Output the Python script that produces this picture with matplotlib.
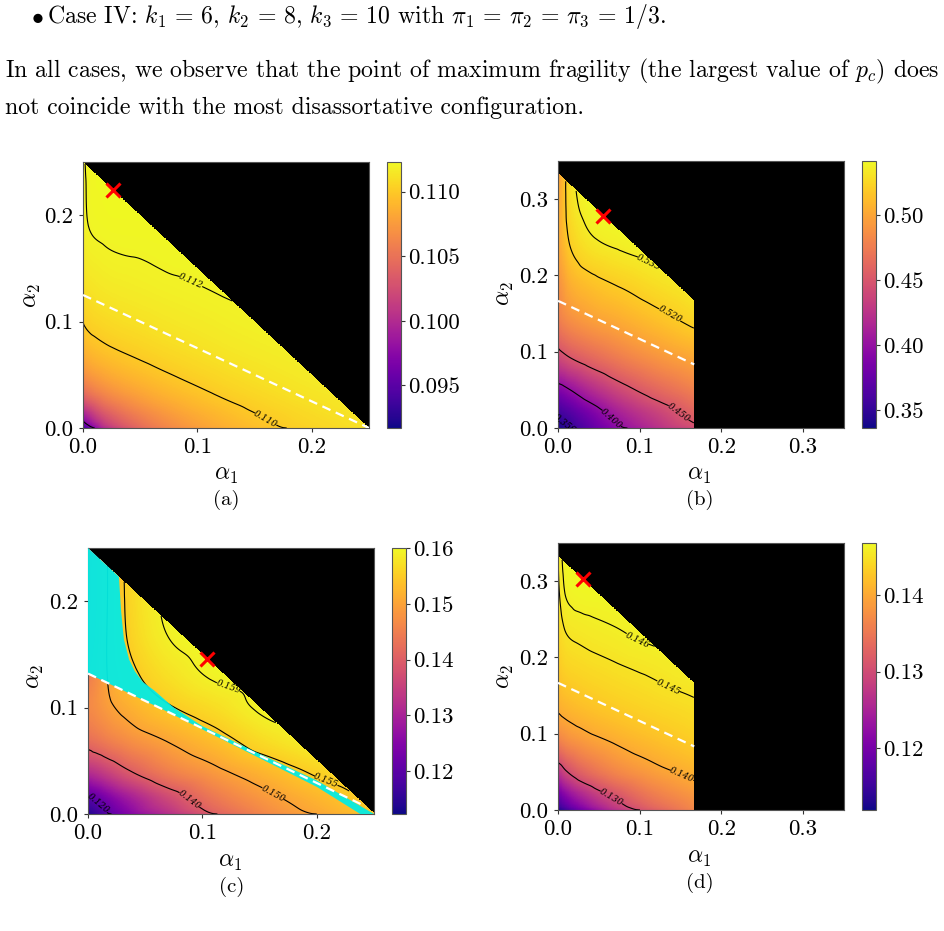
import numpy as np
import matplotlib
matplotlib.use("Agg")
import matplotlib.pyplot as plt
import matplotlib.tri as mtri

plt.rcParams.update({
    "font.family": "serif",
    "font.serif": ["cmr10"],
    "mathtext.fontset": "cm",
    "axes.formatter.use_mathtext": True,
})

W, H = 944, 931

# ---- panel (a): critical p_c on a grid of (alpha1, alpha2) nodes
A_ALPHA1 = [0, 0.004, 0.02, 0.06, 0.12, 0.185, 0.25]
A_ALPHA2 = [0, 0.012, 0.035, 0.07, 0.12, 0.185, 0.25]
A_PC = [
    [0.09188, 0.09439, 0.09998, 0.10505, 0.10828, 0.11015, 0.11117],
    [0.09849, 0.09994, 0.10315, 0.10658, 0.10911, 0.11060, 0.11142],
    [0.10461, 0.10533, 0.10676, 0.10865, 0.11025, 0.11123, 0.11176],
    [0.10841, 0.10887, 0.10956, 0.11045, 0.11128, 0.11179, 0.11207],
    [0.11056, 0.11092, 0.11128, 0.11163, 0.11196, 0.11216, 0.11227],
    [0.11150, 0.11194, 0.11212, 0.11219, 0.11227, 0.11233, 0.11236],
    [0.11178, 0.11210, 0.11230, 0.11233, 0.11236, 0.11238, 0.11239],
]
A_LEVELS = [0.097, 0.110, 0.112]
A_RANGE = (0.0917, 0.1123)
A_CBAR_TICKS = [0.095, 0.100, 0.105, 0.110]
A_DASH_ALPHA1 = [0.0, 0.25]
A_DASH_ALPHA2 = [0.125, 0.0]
A_PEAK = (0.026, 0.2235)

# ---- panel (b)
B_ALPHA1 = [0, 0.005, 0.015, 0.04, 0.08, 0.125, 0.1667]
B_ALPHA2 = [0, 0.02, 0.05, 0.09, 0.14, 0.19, 0.24, 0.29, 0.3333]
B_PC = [
    [0.336, 0.340, 0.347, 0.368, 0.397, 0.422, 0.440],
    [0.354, 0.359, 0.366, 0.386, 0.415, 0.438, 0.459],
    [0.388, 0.392, 0.400, 0.419, 0.443, 0.463, 0.478],
    [0.435, 0.441, 0.448, 0.460, 0.476, 0.490, 0.500],
    [0.473, 0.479, 0.486, 0.495, 0.504, 0.5145, 0.5235],
    [0.485, 0.494, 0.5056, 0.515, 0.5225, 0.530, 0.5355],
    [0.494, 0.507, 0.5206, 0.532, 0.537, 0.5405, 0.5425],
    [0.493, 0.5098, 0.528, 0.5398, 0.543, 0.544, 0.545],
    [0.4875, 0.508, 0.5297, 0.543, 0.545, 0.5455, 0.546],
]
B_LEVELS = [0.350, 0.400, 0.450, 0.520, 0.535]
B_RANGE = (0.336, 0.5415)
B_CBAR_TICKS = [0.35, 0.40, 0.45, 0.50]
B_DASH_ALPHA1 = [0.0, 0.1667]
B_DASH_ALPHA2 = [0.1667, 0.0833]
B_PEAK = (0.0555, 0.278)

# ---- panel (c)
C_ALPHA1 = [0, 0.008, 0.018, 0.035, 0.07, 0.11, 0.16, 0.205, 0.25]
C_ALPHA2 = [0, 0.015, 0.04, 0.07, 0.1, 0.13, 0.17, 0.21, 0.25]
C_PC = [
    [0.1123, 0.1155, 0.1192, 0.1240, 0.1315, 0.1395, 0.1465, 0.1504, 0.1539],
    [0.1188, 0.1215, 0.1245, 0.1290, 0.1368, 0.1439, 0.1492, 0.1527, 0.1557],
    [0.1318, 0.1336, 0.1358, 0.1395, 0.1450, 0.1489, 0.1529, 0.1559, 0.1580],
    [0.1423, 0.1437, 0.1452, 0.1473, 0.1504, 0.1535, 0.1573, 0.1594, 0.1602],
    [0.1459, 0.1475, 0.1492, 0.1514, 0.1546, 0.1569, 0.1598, 0.1603, 0.1605],
    [0.1434, 0.1471, 0.1503, 0.1537, 0.1572, 0.1593, 0.1602, 0.1605, 0.1606],
    [0.1400, 0.1456, 0.1506, 0.1553, 0.1591, 0.1602, 0.1606, 0.1607, 0.1607],
    [0.1385, 0.1449, 0.1504, 0.1557, 0.1596, 0.1604, 0.1607, 0.1607, 0.1607],
    [0.1384, 0.1449, 0.1505, 0.1559, 0.1596, 0.1606, 0.1607, 0.1607, 0.1607],
]
C_LEVELS = [0.120, 0.140, 0.150, 0.155, 0.159]
C_RANGE = (0.1123, 0.160)
C_CBAR_TICKS = [0.12, 0.13, 0.14, 0.15, 0.16]
C_DASH_ALPHA1 = [0.0, 0.243]
C_DASH_ALPHA2 = [0.132, 0.007]
C_PEAK = (0.104, 0.146)
# outline of the cyan region (left block plus the thin strip along the dashed line)
C_CYAN_ALPHA1 = [0, 0, 0.027, 0.029, 0.0314, 0.036, 0.041, 0.048, 0.058, 0.075,
                 0.1, 0.15, 0.2, 0.25, 0.238, 0.2, 0.15, 0.1, 0.065]
C_CYAN_ALPHA2 = [0.132, 0.25, 0.223, 0.19, 0.164, 0.145, 0.134, 0.124, 0.116, 0.100,
                 0.0825, 0.0565, 0.0315, 0.0, 0.0, 0.0255, 0.0525, 0.0795, 0.0985]

# ---- panel (d)
D_ALPHA1 = [0, 0.003, 0.01, 0.03, 0.07, 0.115, 0.1667]
D_ALPHA2 = [0, 0.02, 0.05, 0.09, 0.115, 0.14, 0.19, 0.24, 0.29, 0.3333]
D_PC = [
    [0.1119, 0.1126, 0.1144, 0.1190, 0.1260, 0.1316, 0.1362],
    [0.1190, 0.1199, 0.1219, 0.1258, 0.1311, 0.1354, 0.1384],
    [0.1267, 0.1277, 0.1297, 0.1329, 0.1365, 0.1389, 0.1409],
    [0.1357, 0.1362, 0.1371, 0.1385, 0.1403, 0.1418, 0.1432],
    [0.1389, 0.1392, 0.1397, 0.1407, 0.1420, 0.1431, 0.1441],
    [0.1407, 0.1410, 0.1415, 0.1423, 0.1433, 0.1441, 0.1448],
    [0.1426, 0.1432, 0.1438, 0.1443, 0.1449, 0.1454, 0.1460],
    [0.1437, 0.1445, 0.1452, 0.1456, 0.1460, 0.14645, 0.1467],
    [0.1444, 0.1453, 0.1462, 0.1466, 0.1467, 0.1469, 0.1470],
    [0.1447, 0.1457, 0.1466, 0.1469, 0.1470, 0.1470, 0.1470],
]
D_LEVELS = [0.130, 0.140, 0.145, 0.146]
D_RANGE = (0.1119, 0.1468)
D_CBAR_TICKS = [0.12, 0.13, 0.14]
D_DASH_ALPHA1 = [0.0, 0.1667]
D_DASH_ALPHA2 = [0.1667, 0.0833]
D_PEAK = (0.031, 0.303)

PANELS = [
    dict(tag="(a)", alpha1=A_ALPHA1, alpha2=A_ALPHA2, pc=A_PC, levels=A_LEVELS, vrange=A_RANGE,
         cticks=A_CBAR_TICKS, cfmt="%.3f", dash=(A_DASH_ALPHA1, A_DASH_ALPHA2), peak=A_PEAK,
         lim=0.25, ticks=[0, 0.1, 0.2], sum_max=0.25, a1_max=None,
         box=(83, 162, 369, 428), cbox=(387, 162, 401, 428),
         label_at=[(0.094, 0.137), (0.161, 0.011)],
         xlab=(226, 475), ylab=(32, 296), cap=(226, 500)),
    dict(tag="(b)", alpha1=B_ALPHA1, alpha2=B_ALPHA2, pc=B_PC, levels=B_LEVELS, vrange=B_RANGE,
         cticks=B_CBAR_TICKS, cfmt="%.2f", dash=(B_DASH_ALPHA1, B_DASH_ALPHA2), peak=B_PEAK,
         lim=0.35, ticks=[0, 0.1, 0.2, 0.3], sum_max=1 / 3, a1_max=1 / 6,
         box=(558, 161, 844, 428), cbox=(862, 161, 876, 428),
         label_at=[(0.1085, 0.212), (0.137, 0.149), (0.147, 0.019), (0.066, 0.013), (0.0086, 0.006)],
         xlab=(699, 475), ylab=(505, 294), cap=(700, 500)),
    dict(tag="(c)", alpha1=C_ALPHA1, alpha2=C_ALPHA2, pc=C_PC, levels=C_LEVELS, vrange=C_RANGE,
         cticks=C_CBAR_TICKS, cfmt="%.2f", dash=(C_DASH_ALPHA1, C_DASH_ALPHA2), peak=C_PEAK,
         lim=0.25, ticks=[0, 0.1, 0.2], sum_max=0.25, a1_max=None,
         box=(88, 548, 374, 814), cbox=(392, 548, 406, 814),
         label_at=[(0.122, 0.117), (0.208, 0.031), (0.162, 0.0195), (0.0885, 0.013), (0.0094, 0.010)],
         xlab=(230, 862), ylab=(35, 677), cap=(232, 887),
         cyan=(C_CYAN_ALPHA1, C_CYAN_ALPHA2)),
    dict(tag="(d)", alpha1=D_ALPHA1, alpha2=D_ALPHA2, pc=D_PC, levels=D_LEVELS, vrange=D_RANGE,
         cticks=D_CBAR_TICKS, cfmt="%.2f", dash=(D_DASH_ALPHA1, D_DASH_ALPHA2), peak=D_PEAK,
         lim=0.35, ticks=[0, 0.1, 0.2, 0.3], sum_max=1 / 3, a1_max=1 / 6,
         box=(558, 543, 844, 810), cbox=(862, 543, 876, 810),
         label_at=[(0.098, 0.225), (0.135, 0.162), (0.151, 0.0437), (0.0657, 0.0175)],
         xlab=(699, 858), ylab=(505, 677), cap=(700, 883)),
]

TICK_SIZE = 16.5
SPINE = "#555555"


def px_rect(x0, y0, x1, y1):
    return [x0 / W, 1 - y1 / H, (x1 - x0) / W, (y1 - y0) / H]


def grid_triangulation(u, v):
    # nodes are placed in sqrt-stretched coordinates so that the
    # fine spacing near alpha = 0 still gives well shaped triangles
    xx, yy = np.meshgrid(u, v)
    n = len(u)
    tris = []
    for j in range(len(v) - 1):
        for i in range(n - 1):
            k = j * n + i
            tris.append([k, k + 1, k + n + 1])
            tris.append([k, k + n + 1, k + n])
    return mtri.Triangulation(xx.ravel(), yy.ravel(), np.array(tris))


def draw_panel(fig, p):
    ax = fig.add_axes(px_rect(*p["box"]))
    cax = fig.add_axes(px_rect(*p["cbox"]))

    tri = grid_triangulation(np.sqrt(p["alpha1"]), np.sqrt(p["alpha2"]))
    interp = mtri.CubicTriInterpolator(tri, np.ravel(p["pc"]), kind="geom")
    g = np.linspace(0, p["lim"], 700)
    g1, g2 = np.meshgrid(g, g)
    z = interp(np.sqrt(g1), np.sqrt(g2))
    outside = g1 + g2 > p["sum_max"]
    if p["a1_max"] is not None:
        outside |= g1 > p["a1_max"]
    z = np.ma.masked_where(outside | np.ma.getmaskarray(z), z)

    ax.set_facecolor("black")
    vmin, vmax = p["vrange"]
    im = ax.imshow(z, origin="lower", extent=(0, p["lim"], 0, p["lim"]), cmap="plasma",
                   vmin=vmin, vmax=vmax, aspect="auto", interpolation="nearest")
    cs = ax.contour(g1, g2, z, levels=p["levels"], colors="black", linewidths=0.8)
    labels = ax.clabel(cs, fmt="%.3f", fontsize=6.5, inline=True, inline_spacing=2,
                       manual=p["label_at"])
    for t in labels:
        t.set_fontfamily("DejaVu Serif")
        t.set_fontstyle("italic")

    if "cyan" in p:
        ax.fill(p["cyan"][0], p["cyan"][1], color="#05ebe3", alpha=0.95, lw=0, zorder=3)

    ax.plot(p["dash"][0], p["dash"][1], color="white", lw=1.6, ls=(0, (4, 2.6)), zorder=4)
    ax.plot([p["peak"][0]], [p["peak"][1]], ls="none", marker="x", color="red",
            ms=9.5, mew=2.2, zorder=5)

    ax.set_xlim(0, p["lim"])
    ax.set_ylim(0, p["lim"])
    ax.set_xticks(p["ticks"])
    ax.set_yticks(p["ticks"])
    ax.set_xticklabels([f"{v:.1f}" for v in p["ticks"]])
    ax.set_yticklabels([f"{v:.1f}" for v in p["ticks"]])
    ax.tick_params(labelsize=TICK_SIZE, length=3, width=0.8, color="#333333", pad=4)
    for s in ax.spines.values():
        s.set_color(SPINE)
        s.set_linewidth(0.8)

    cb = fig.colorbar(im, cax=cax, ticks=p["cticks"], format=p["cfmt"])
    cb.outline.set_edgecolor(SPINE)
    cb.outline.set_linewidth(0.8)
    cax.tick_params(labelsize=TICK_SIZE, length=3, width=0.8, color="#333333", pad=2)

    fig.text(p["xlab"][0] / W, 1 - p["xlab"][1] / H, r"$\alpha_1$", fontsize=17,
             ha="center", va="center")
    fig.text(p["ylab"][0] / W, 1 - p["ylab"][1] / H, r"$\alpha_2$", fontsize=17,
             ha="center", va="center", rotation=90)
    fig.text(p["cap"][0] / W, 1 - p["cap"][1] / H, p["tag"], fontsize=15,
             ha="center", va="center")


fig = plt.figure(figsize=(W / 100, H / 100), dpi=100)
fig.patch.set_facecolor("white")

for panel in PANELS:
    draw_panel(fig, panel)

# running text above the figure
base = 16
bullet = fig.text(31 / W, 1 - 23 / H, r"$\bullet$", fontsize=base, va="baseline")
line1 = fig.text(47 / W, 1 - 23 / H,
                 r"Case IV: $k_1\,=\,6$, $k_2\,=\,8$, $k_3\,=\,10$ with "
                 r"$\pi_1\,=\,\pi_2\,=\,\pi_3\,=\,1/3$.",
                 fontsize=base, va="baseline")
line2 = fig.text(5 / W, 1 - 77 / H,
                 r"In all cases, we observe that the point of maximum fragility (the largest value of $p_c$) does",
                 fontsize=base, va="baseline")
line3 = fig.text(5 / W, 1 - 114 / H,
                 "not coincide with the most disassortative configuration.",
                 fontsize=base, va="baseline")

fig.canvas.draw()
renderer = fig.canvas.get_renderer()
size = base * 935 / line2.get_window_extent(renderer).width
for t in (bullet, line1, line2, line3):
    t.set_fontsize(size)

fig.savefig("out.png", dpi=100, facecolor="white")
